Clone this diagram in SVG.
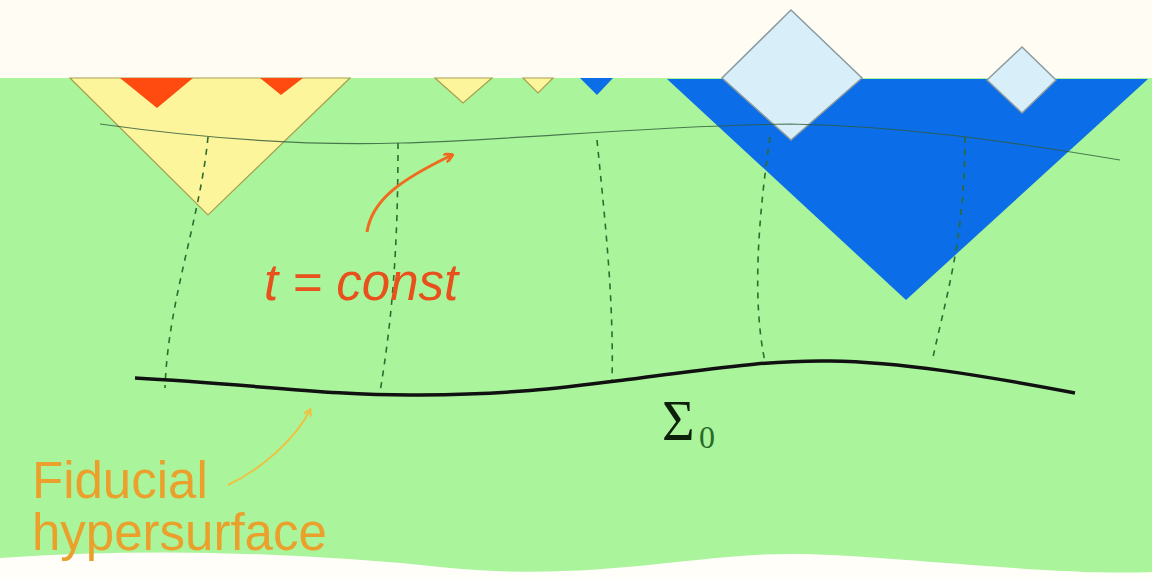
<svg xmlns="http://www.w3.org/2000/svg" width="1152" height="578" viewBox="0 0 1152 578">
<style>
.geo{fill:none;stroke:#2f6a2f;stroke-width:1.6;stroke-dasharray:6 6}
.tri-y{fill:#fdf59c;stroke:#a8a050;stroke-width:1.2}
.red{fill:#ff4a10}
.blue{fill:#0b6de8}
.dia{fill:#d8eef8;stroke:#8a9aa0;stroke-width:1.5}
</style>
<defs>
<marker id="ahO" markerWidth="10" markerHeight="10" refX="8" refY="5" orient="auto" markerUnits="userSpaceOnUse">
<path d="M0,0 L9,5 L0,10" fill="none" stroke="#f06a20" stroke-width="3"/>
</marker>
<marker id="ahY" markerWidth="8" markerHeight="8" refX="6" refY="4" orient="auto" markerUnits="userSpaceOnUse">
<path d="M0,0 L7,4 L0,8" fill="none" stroke="#f0c040" stroke-width="2"/>
</marker>
</defs>
<rect width="1152" height="578" fill="#fffdf3"/>
<rect y="78" width="1152" height="500" fill="#aaf59c"/>
<path d="M0,558 C150,548 300,552 450,568 C600,582 700,552 800,554 C900,556 1050,576 1152,572 L1152,578 L0,578 Z" fill="#fffef8"/>
<g id="cones">
<polygon class="tri-y" points="70,78 350,78 208,215"/>
<polygon class="red" points="120,78 193,78 157,108"/>
<polygon class="red" points="260,78 303,78 281,95"/>
<polygon class="tri-y" points="435,78 492,78 463,103"/>
<polygon class="tri-y" points="523,78 553,78 538,93"/>
<polygon class="blue" points="580,78 613,78 597,95"/>
<polygon class="blue" points="667,79 1148,79 906,300"/>
<polygon class="dia" points="791,10 862,78 791,140 722,78"/>
<polygon class="dia" points="1022,47 1056,80 1022,113 987,80"/>
</g>
<g id="connectors">
<path d="M100,124 C200,138 300,146 400,143 C520,140 640,126 790,124 C900,126 1000,140 1120,160" fill="none" stroke="#2f5a3a" stroke-width="1.2" opacity="0.8"/>
<path class="geo" d="M208,137 C200,220 168,300 165,388"/>
<path class="geo" d="M398,143 C398,250 392,320 380,392"/>
<path class="geo" d="M597,140 C605,220 614,300 612,383"/>
<path class="geo" d="M770,137 C758,220 752,300 765,362"/>
<path class="geo" d="M965,137 C965,240 945,300 932,362"/>
<path id="sigma0" d="M135,378 C250,384 330,396 420,395 C520,394 560,388 640,378 C720,368 770,360 830,361 C900,362 980,375 1075,393" fill="none" stroke="#111" stroke-width="3.5"/>
<path d="M367,232 C372,200 400,180 452,155" fill="none" stroke="#f06a20" stroke-width="3" marker-end="url(#ahO)"/>
<path d="M228,485 C260,470 295,440 310,410" fill="none" stroke="#f0c040" stroke-width="2" marker-end="url(#ahY)"/>
</g>
<g id="labels">
<text x="264" y="300" font-family="Liberation Sans, Arial, sans-serif" font-style="italic" font-size="51" fill="#e8501c">t = const</text>
<text x="662" y="440" font-family="Liberation Serif, Times New Roman, serif" font-size="56" fill="#0c200c">Σ</text>
<text x="699" y="448" font-family="Liberation Serif, Times New Roman, serif" font-size="32" fill="#2a6a2a">0</text>
<text x="32" y="498" font-family="Liberation Sans, Arial, sans-serif" font-size="51" fill="#eca02c">Fiducial</text>
<text x="32" y="550" font-family="Liberation Sans, Arial, sans-serif" font-size="51" fill="#eca02c">hypersurface</text>
</g>
</svg>
